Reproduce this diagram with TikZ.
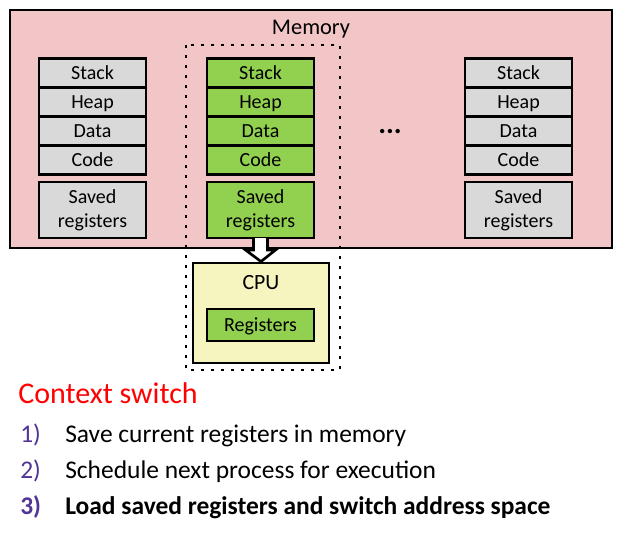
\documentclass[tikz,border=0pt]{standalone}
\usepackage{fontspec}
\setmainfont{Carlito}
\usepackage{tikz}
\usetikzlibrary{calc,positioning}

\definecolor{mempink}{RGB}{242,198,198}
\definecolor{seggray}{RGB}{217,217,217}
\definecolor{seggreen}{RGB}{146,208,80}
\definecolor{cpuyellow}{RGB}{246,245,192}
\definecolor{steppurple}{RGB}{80,52,150}

\tikzset{
  seg/.style={draw, line width=2.2pt, minimum width=80.25pt, minimum height=21.75pt,
    inner sep=0pt, outer sep=0pt, font=\fontsize{15}{18}\selectfont, align=center},
  segline/.style={seg, text height=11.2pt, text depth=2.2pt},
  savedbox/.style={seg, minimum height=42pt},
  steptext/.style={anchor=base west, inner sep=0pt, font=\fontsize{19.1}{23}\selectfont},
}

\begin{document}
\begin{tikzpicture}[x=0.75pt, y=-0.75pt]

    \useasboundingbox (0,0) rectangle (625,539);

    % memory
    \node[draw, fill=mempink, line width=2.2pt, inner sep=0pt, minimum width=451.5pt,
      minimum height=178.5pt] (mem) at (311,129) {};
    \node[font=\fontsize{16.8}{20}\selectfont] (memlabel) at (311,29) {Memory};

    % processes
    \foreach \col/\x/\clr in {A/92.5/seggray, B/260.5/seggreen, C/518.5/seggray} {
        \node[segline, fill=\clr] (\col1) at (\x,73) {Stack};
        \node[segline, fill=\clr, below=0pt of \col1] (\col2) {Heap};
        \node[segline, fill=\clr, below=0pt of \col2] (\col3) {Data};
        \node[segline, fill=\clr, below=0pt of \col3] (\col4) {Code};
        \node[savedbox, fill=\clr] (\col5) at (\x,210) {Saved\\registers};
    }

    \node[font=\fontsize{22}{24}\selectfont\bfseries] (dots) at (390,132) {...};

    % cpu
    \node[draw, fill=cpuyellow, line width=2.2pt, inner sep=0pt, minimum width=102pt,
      minimum height=75pt] (cpu) at (261,313) {};
    \node[font=\fontsize{16.3}{20}\selectfont] (cpulabel) at (261,283) {CPU};
    \node[segline, fill=seggreen, minimum height=24pt] (regs) at (260.5,325) {Registers};

    % dotted frame
    \draw[line width=2.2pt, dash pattern=on 2.2pt off 5.3pt] (186,45) rectangle (340,370);

    % load arrow
    \coordinate (top) at (B5.south);
    \coordinate (tip) at (cpu.north);
    \draw[fill=white, line width=2pt, line join=miter]
      ($(top)+(-7,0)$) -- ($(top)+(-7,12)$) -- ($(top)+(-15,12)$) -- (tip)
      -- ($(top)+(15,12)$) -- ($(top)+(7,12)$) -- ($(top)+(7,0)$);

    % steps
    \node[anchor=base west, inner sep=0pt, text=red, font=\fontsize{22.5}{26}\selectfont]
      (title) at (18,403) {Context switch};
    \node[steptext, text=steppurple] (n1) at (20,442) {1)};
    \node[steptext] (s1) at (65,442) {Save current registers in memory};
    \node[steptext, text=steppurple] (n2) at (20,478) {2)};
    \node[steptext] (s2) at (65,478) {Schedule next process for execution};
    \node[steptext, text=steppurple, font=\fontsize{19.1}{23}\selectfont\bfseries] (n3) at (20,514) {3)};
    \node[steptext, font=\fontsize{19.1}{23}\selectfont\bfseries] (s3) at (65,514) {Load saved registers and switch address space};

\end{tikzpicture}
\end{document}
